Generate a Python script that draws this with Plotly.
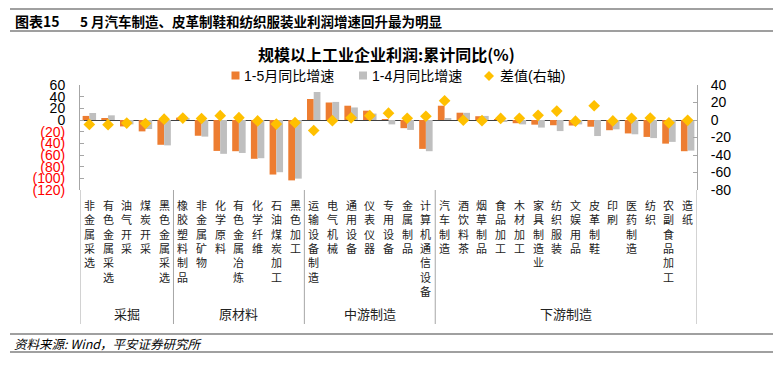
import plotly.graph_objects as go

# ---------------- data ----------------
categories = ["非金属采选", "有色金属采选", "油气开采", "煤炭开采", "黑色金属采选",
              "橡胶塑料制品", "非金属矿物", "化学原料", "有色金属冶炼", "化学纤维", "石油煤炭加工", "黑色加工",
              "运输设备制造", "电气机械", "通用设备", "仪表仪器", "专用设备", "金属制品", "计算机通信设备",
              "汽车制造", "酒饮料茶", "烟草制品", "食品加工", "木材加工", "家具制造业", "纺织服装",
              "文娱用品", "皮革制鞋", "印刷", "医药制造", "纺织", "农副食品加工", "造纸"]
group_names = ["采掘", "原材料", "中游制造", "下游制造"]
group_sizes = [5, 7, 7, 14]
ytd_1_5 = [7, 2.5, -11, -19.5, -42.5,
           4, -27, -53, -53.5, -66.5, -93.5, -103.5,
           36, 30, 24.5, 16, 0.8, -14, -49.5,
           24.5, 12.5, 6.5, 1.5, -5.5, -8, -9, -9.5, -11.5, -17.5, -23, -29, -40.5, -53.5]
ytd_1_4 = [12, 8, -7.5, -15.5, -43.5,
           2, -28.5, -58, -56.5, -65.5, -89.5, -100.5,
           48, 31, 21.5, 11, -7.5, -17, -53.5,
           3, 12.3, 7, -3.5, -7.5, -13, -19, -7.5, -27.5, -16, -24.5, -31, -37.5, -52.5]
diff_vals = [-5, -5.3, -3.5, -4, 1,
             2.2, 1.7, 5, 2.7, -1, -4.7, -3,
             -12, -0.8, 2.5, 5, 7.8, 2, 4.3,
             22, -0.3, -0.8, 1.8, 2, 5.3, 10.2, -1.3, 16.3, -1, 2, 2.3, -3.2, -0.4]
left_ticks = [60, 40, 20, 0, -20, -40, -60, -80, -100, -120]
right_ticks = [40, 20, 0, -20, -40, -60, -80]

W, H = 783, 366
L, R, T, B = 80, 697, 85, 190  # plot area in pixels

def px_x(p):
    return (p - L) / (R - L)

def px_y(p):
    return (B - p) / (B - T)

FONT = "Liberation Sans, Arial, Noto Sans CJK SC, sans-serif"
CJK = "Noto Sans CJK SC, Liberation Sans, sans-serif"
ORANGE = "#ED7D31"
GRAY = "#BFBFBF"
GOLD = "#FFC000"
AXC = "#A6A6A6"

xs = list(range(len(categories)))

fig = go.Figure()
fig.add_trace(go.Bar(x=xs, y=ytd_1_5, name="1-5月同比增速", marker_color=ORANGE,
                     marker_line_width=0, showlegend=False))
fig.add_trace(go.Bar(x=xs, y=ytd_1_4, name="1-4月同比增速", marker_color=GRAY,
                     marker_line_width=0, showlegend=False))
fig.add_trace(go.Scatter(x=xs, y=diff_vals, name="差值(右轴)", mode="markers", yaxis="y2",
                         marker=dict(symbol="diamond", size=9, color=GOLD, line_width=0),
                         showlegend=False))

def fmt_left(v):
    if v < 0:
        return '<span style="color:#FF0000">(%d)</span>' % (-v)
    return str(v)

fig.update_layout(
    width=W, height=H, autosize=False,
    margin=dict(l=L, r=W - R, t=T, b=H - B, pad=0),
    paper_bgcolor="white", plot_bgcolor="white",
    barmode="group", bargap=0.28, bargroupgap=0,
    font=dict(family=FONT, size=14, color="#000000"),
    xaxis=dict(range=[-0.5, len(categories) - 0.5], showticklabels=False, showline=False,
               showgrid=False, zeroline=False, ticks=""),
    yaxis=dict(range=[-120, 60], tickvals=left_ticks, ticktext=[fmt_left(v) for v in left_ticks],
               showgrid=False, zeroline=True, zerolinecolor="#404040", zerolinewidth=1,
               showline=True, linecolor=AXC, linewidth=1, ticks="inside", ticklen=4,
               tickcolor=AXC, tickfont=dict(size=14, family=FONT, color="#000000"),
               ticklabelstandoff=11),
    yaxis2=dict(range=[-80, 40], tickvals=right_ticks, ticktext=[str(v) for v in right_ticks],
                overlaying="y", side="right", showgrid=False, zeroline=False,
                showline=True, linecolor=AXC, linewidth=1, ticks="inside", ticklen=4,
                tickcolor=AXC, tickfont=dict(size=14, family=FONT, color="#000000"),
                ticklabelstandoff=10),
)

shapes = []
annotations = []

# header / footer rules
for yy, col, wd in [(9, "#808080", 1.5), (31, "#404040", 1.2), (334, "#808080", 1.5), (352, "#808080", 1.5)]:
    shapes.append(dict(type="line", xref="paper", yref="paper", x0=px_x(10), x1=px_x(773),
                       y0=px_y(yy), y1=px_y(yy), line=dict(color=col, width=wd)))

annotations.append(dict(text="<b>图表15</b>", xref="paper", yref="paper", x=px_x(13), y=px_y(21),
                        xanchor="left", yanchor="middle", showarrow=False,
                        font=dict(family=CJK, size=14, color="#000000")))
annotations.append(dict(text="<b>5 月汽车制造、皮革制鞋和纺织服装业利润增速回升最为明显</b>", xref="paper", yref="paper",
                        x=px_x(78), y=px_y(21), xanchor="left", yanchor="middle", showarrow=False,
                        font=dict(family=CJK, size=13.5, color="#000000")))
annotations.append(dict(text="<i>资料来源: Wind，平安证券研究所</i>", xref="paper", yref="paper",
                        x=px_x(12), y=px_y(343), xanchor="left", yanchor="middle", showarrow=False,
                        font=dict(family=CJK, size=12.5, color="#000000")))

# chart title
annotations.append(dict(text="<b>规模以上工业企业利润:累计同比(%)</b>", xref="paper", yref="paper",
                        x=px_x(386), y=px_y(54), xanchor="center", yanchor="middle", showarrow=False,
                        font=dict(family=CJK, size=16, color="#000000")))

# legend (manual)
leg_y = 76
shapes.append(dict(type="rect", xref="paper", yref="paper", x0=px_x(231.5), x1=px_x(239.5),
                   y0=px_y(79.5), y1=px_y(71.5), fillcolor=ORANGE, line_width=0))
shapes.append(dict(type="rect", xref="paper", yref="paper", x0=px_x(359), x1=px_x(367),
                   y0=px_y(79.5), y1=px_y(71.5), fillcolor=GRAY, line_width=0))
cx, cy, r = 489, 76, 5
path = "M %f %f L %f %f L %f %f L %f %f Z" % (
    px_x(cx), px_y(cy - r), px_x(cx + r), px_y(cy), px_x(cx), px_y(cy + r), px_x(cx - r), px_y(cy))
shapes.append(dict(type="path", xref="paper", yref="paper", path=path, fillcolor=GOLD, line_width=0))
for tx, label in [(242, "1-5月同比增速"), (370, "1-4月同比增速"), (498, "差值(右轴)")]:
    annotations.append(dict(text=label, xref="paper", yref="paper", x=px_x(tx), y=px_y(leg_y),
                            xanchor="left", yanchor="middle", showarrow=False,
                            font=dict(family=FONT + ", Noto Sans CJK SC", size=14, color="#000000")))

# category labels (vertical text)
for i, c in enumerate(categories):
    annotations.append(dict(text="<br>".join(list(c)), xref="x", yref="paper", x=i, y=px_y(195),
                            xanchor="center", yanchor="top", showarrow=False, align="center",
                            font=dict(family=CJK, size=11, color="#222222")))

# group separators and group labels
bounds = [-0.5]
for s in group_sizes:
    bounds.append(bounds[-1] + s)
for bx in bounds:
    shapes.append(dict(type="line", xref="x", yref="paper", x0=bx, x1=bx,
                       y0=px_y(B), y1=px_y(324), line=dict(color=AXC, width=1)))
for gi, g in enumerate(group_names):
    mid = (bounds[gi] + bounds[gi + 1]) / 2
    annotations.append(dict(text=g, xref="x", yref="paper", x=mid, y=px_y(313),
                            xanchor="center", yanchor="middle", showarrow=False,
                            font=dict(family=CJK, size=13, color="#222222")))

fig.update_layout(shapes=shapes, annotations=annotations)
fig.write_html("out.html", config={"displayModeBar": False},
               post_script="document.body.style.margin='0';document.body.style.overflow='hidden';")
